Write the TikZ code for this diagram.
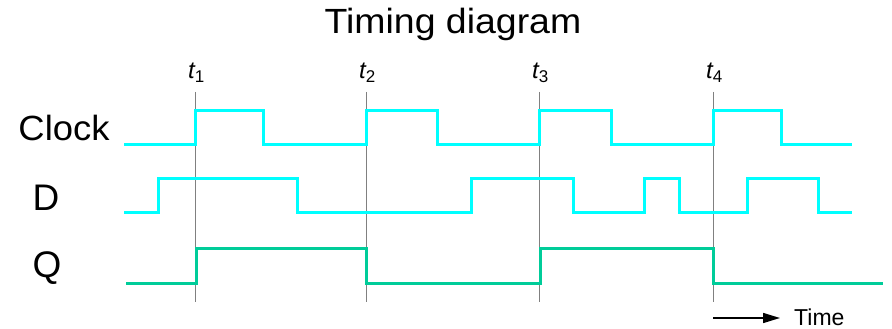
\documentclass[tikz,border=0pt]{standalone}
\usepackage{fontspec}
\setmainfont{Liberation Sans}
\usetikzlibrary{arrows.meta}
\definecolor{sigcyan}{HTML}{00FFFF}
\definecolor{sigq}{HTML}{00CC99}
\definecolor{guide}{HTML}{808080}
\begin{document}
\begin{tikzpicture}[x=1pt,y=-1pt,
  sig/.style={line width=3pt,line join=miter,sigcyan},
  qsig/.style={line width=3pt,line join=miter,sigq},
  guideline/.style={line width=0.8pt,guide},
  rowlabel/.style={font=\fontsize{37}{40}\selectfont,inner sep=0pt},
  tlabel/.style={font=\fontsize{24}{26}\selectfont\itshape,inner sep=0pt,anchor=base west},
]
\useasboundingbox (0,0) rectangle (892,329);
% title
\node[inner sep=0pt,anchor=base] (title) at (453,34) {\scalebox{1.07}[1]{\fontsize{35}{38}\selectfont Timing diagram}};
% row labels
\node[rowlabel,anchor=base] (lclock) at (64,140) {\scalebox{1.04}[1]{\fontsize{35}{38}\selectfont Clock}};
\node[rowlabel,anchor=base] (ld) at (46,210) {D};
\node[rowlabel,anchor=base] (lq) at (47,277) {Q};
% guide lines and t labels
\foreach \x/\n in {195/1,366/2,539/3,713/4}{
  \coordinate (g\n top) at (\x,92);
  \coordinate (g\n bot) at (\x,302);
  \draw[guideline] (g\n top) -- (g\n bot);
  \node[tlabel] (t\n) at (\x-7,79) {t\raisebox{-0.3ex}{\upshape\fontsize{17}{18}\selectfont \n}};
}
% Clock
\draw[sig] (124,144) -- (195,144) -- (195,110) -- (263,110) -- (263,144)
  -- (366,144) -- (366,110) -- (437,110) -- (437,144)
  -- (539,144) -- (539,110) -- (611,110) -- (611,144)
  -- (713,144) -- (713,110) -- (781,110) -- (781,144) -- (852,144);
% D
\draw[sig] (124,212) -- (158,212) -- (158,178) -- (297,178) -- (297,212)
  -- (471,212) -- (471,178) -- (573,178) -- (573,212)
  -- (644,212) -- (644,178) -- (679,178) -- (679,212)
  -- (747,212) -- (747,178) -- (818,178) -- (818,212) -- (852,212);
% Q
\draw[qsig] (126,283) -- (196,283) -- (196,248) -- (366,248) -- (366,283)
  -- (540,283) -- (540,248) -- (713,248) -- (713,283) -- (883,283);
% time arrow
\coordinate (ta) at (713,318);
\node[inner sep=0pt,anchor=base west] (time) at (794,325) {\fontsize{23}{26}\selectfont Time};
\draw[line width=1.5pt,-{Triangle[length=17pt,width=10pt]}] (ta) -- (780,318);
\end{tikzpicture}
\end{document}
